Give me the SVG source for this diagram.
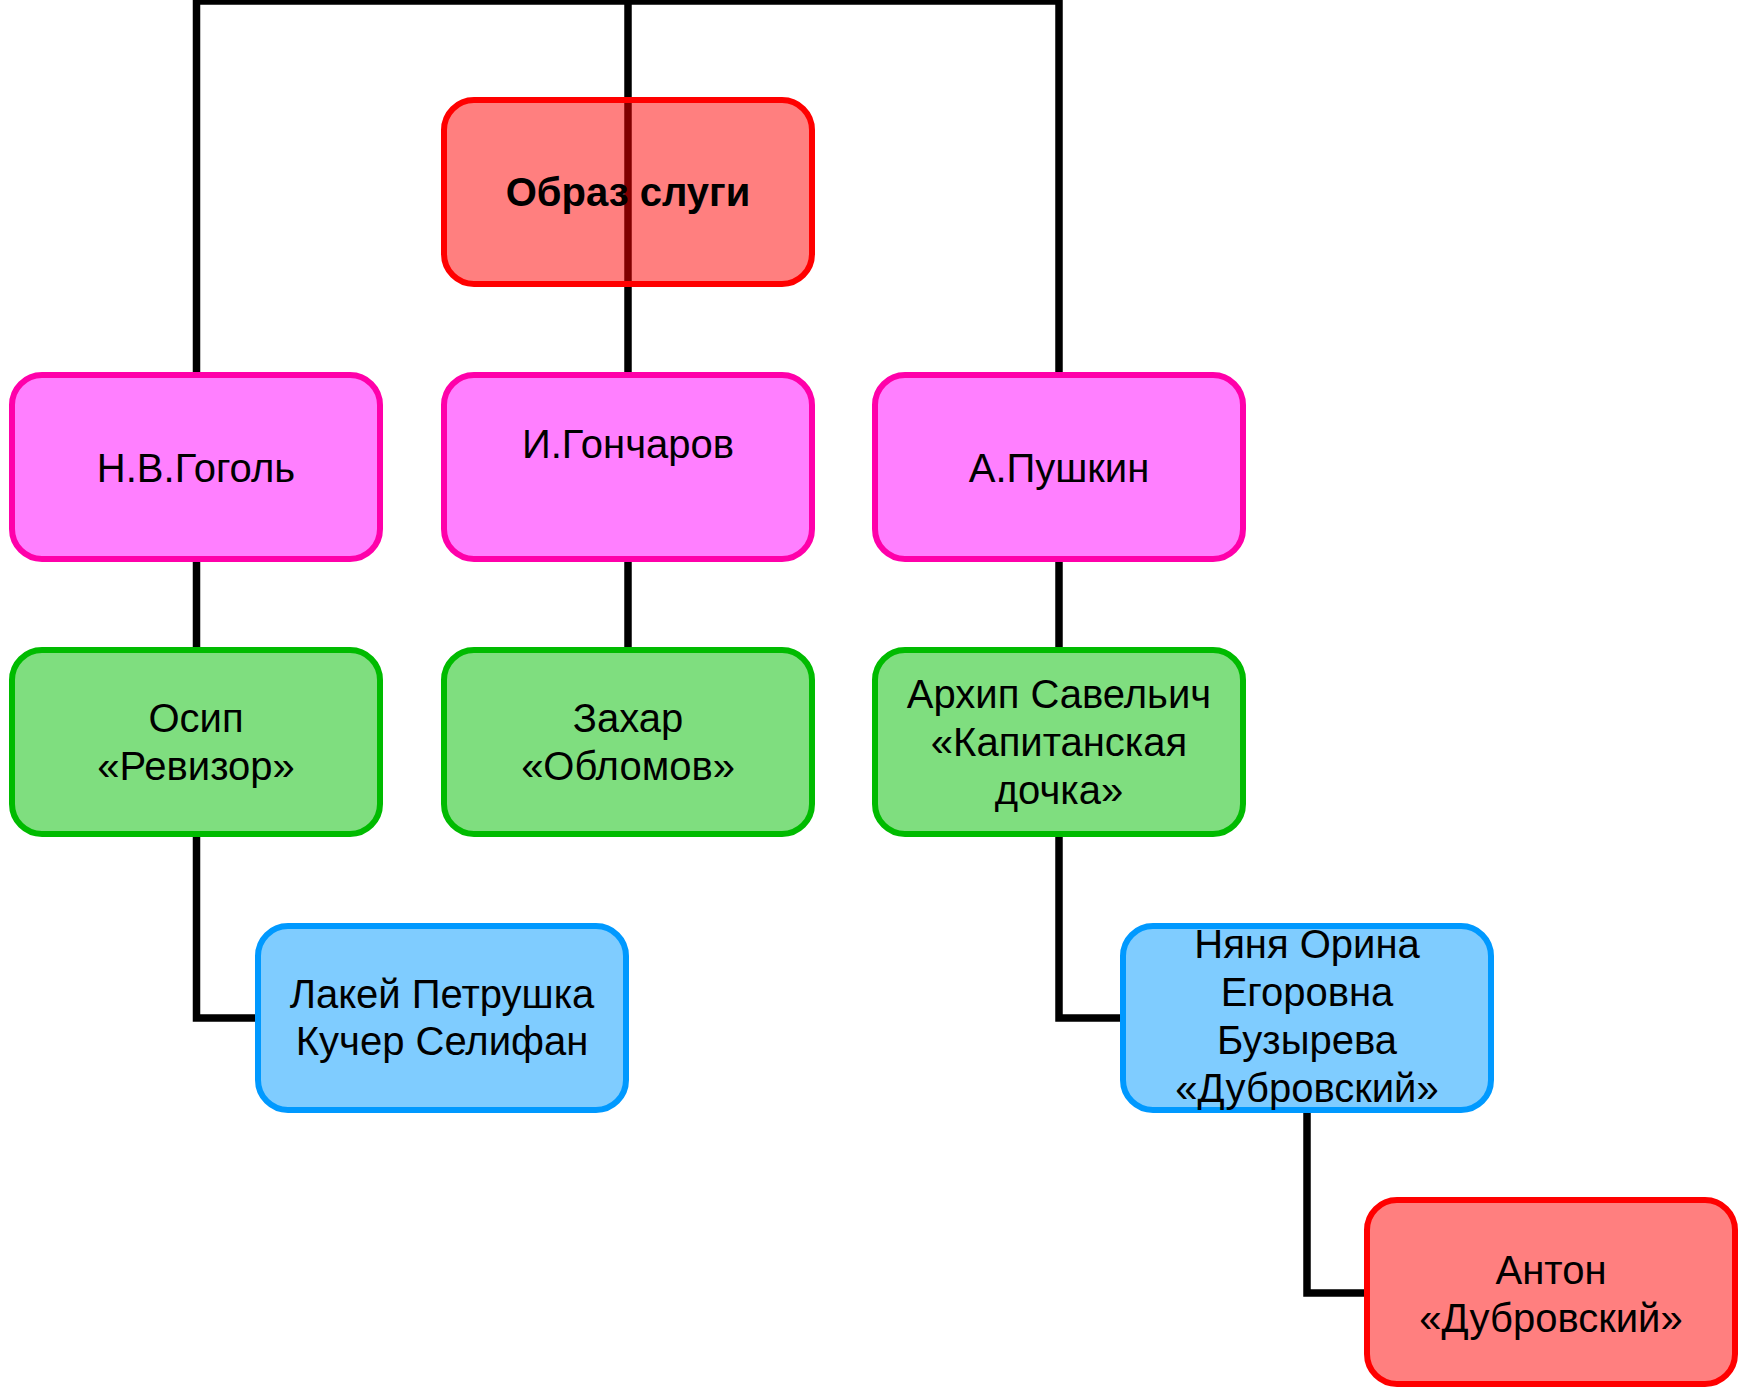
<svg xmlns="http://www.w3.org/2000/svg" width="1739" height="1387" viewBox="0 0 1739 1387">
<style>
.bg{fill:#ffffff}
.con{fill:none;stroke:#000000;stroke-width:7.5;stroke-linejoin:miter;stroke-linecap:butt}
.box{stroke-width:6}
.red{fill:#FF0000;fill-opacity:0.5;stroke:#FF0000}
.pink{fill:#FF00FF;fill-opacity:0.5;stroke:#FF00AA}
.green{fill:#00BE00;fill-opacity:0.5;stroke:#00BB00}
.blue{fill:#0099FF;fill-opacity:0.5;stroke:#0099FF}
text{font-family:"Liberation Sans",Arial,sans-serif;font-size:40px;fill:#000000;text-anchor:middle}
.bold{font-weight:bold}
</style>
<rect class="bg" x="0" y="0" width="1739" height="1387"/>
<g id="connectors">
<path class="con" d="M628 0 V375"/>
<path class="con" d="M628 1 H196.5 V375"/>
<path class="con" d="M628 1 H1059 V375"/>
<path class="con" d="M196.5 559 V650"/>
<path class="con" d="M628 559 V650"/>
<path class="con" d="M1059 559 V650"/>
<path class="con" d="M196.5 834 V1018 H258"/>
<path class="con" d="M1059 834 V1018 H1123"/>
<path class="con" d="M1307 1110 V1293 H1367"/>
</g>
<g id="n_root">
<rect class="box red" x="444" y="100" width="368" height="184" rx="30"/>
<text class="bold" x="628" y="206">Образ слуги</text>
</g>
<g id="n_gogol">
<rect class="box pink" x="12" y="375" width="368" height="184" rx="30"/>
<text x="196" y="482">Н.В.Гоголь</text>
</g>
<g id="n_goncharov">
<rect class="box pink" x="444" y="375" width="368" height="184" rx="30"/>
<text x="628" y="458">И.Гончаров</text>
</g>
<g id="n_pushkin">
<rect class="box pink" x="875" y="375" width="368" height="184" rx="30"/>
<text x="1059" y="482">А.Пушкин</text>
</g>
<g id="n_osip">
<rect class="box green" x="12" y="650" width="368" height="184" rx="30"/>
<text x="196" y="732">Осип</text>
<text x="196" y="780">«Ревизор»</text>
</g>
<g id="n_zahar">
<rect class="box green" x="444" y="650" width="368" height="184" rx="30"/>
<text x="628" y="732">Захар</text>
<text x="628" y="780">«Обломов»</text>
</g>
<g id="n_arhip">
<rect class="box green" x="875" y="650" width="368" height="184" rx="30"/>
<text x="1059" y="708">Архип Савельич</text>
<text x="1059" y="756">«Капитанская</text>
<text x="1059" y="804">дочка»</text>
</g>
<g id="n_lakey">
<rect class="box blue" x="258" y="926" width="368" height="184" rx="30"/>
<text x="442" y="1008">Лакей Петрушка</text>
<text x="442" y="1055">Кучер Селифан</text>
</g>
<g id="n_nyanya">
<rect class="box blue" x="1123" y="926" width="368" height="184" rx="30"/>
<text x="1307" y="958">Няня Орина</text>
<text x="1307" y="1006">Егоровна</text>
<text x="1307" y="1054">Бузырева</text>
<text x="1307" y="1102">«Дубровский»</text>
</g>
<g id="n_anton">
<rect class="box red" x="1367" y="1200" width="368" height="184" rx="30"/>
<text x="1551" y="1284">Антон</text>
<text x="1551" y="1332">«Дубровский»</text>
</g>
</svg>
